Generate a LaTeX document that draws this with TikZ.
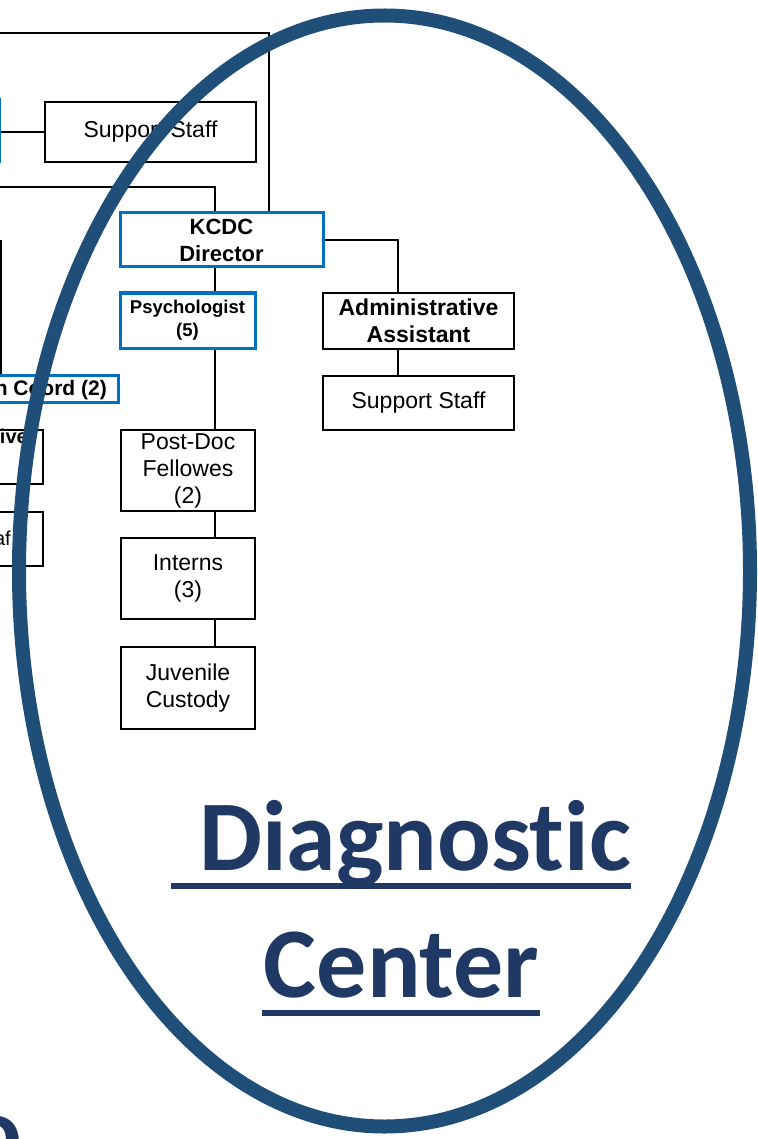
\documentclass[tikz,border=0pt]{standalone}
\usepackage{fontspec}
\setmainfont{Liberation Sans}
\newfontfamily\calibri[Ligatures=NoCommon]{Carlito}
\definecolor{boxblue}{RGB}{0,112,192}
\definecolor{ringblue}{RGB}{31,78,121}
\definecolor{titlenavy}{RGB}{32,56,100}
\tikzset{
  box/.style={draw, line width=2pt, inner sep=0pt, align=center, font=\fontsize{23}{27}\selectfont},
  bluebox/.style={box, draw=boxblue, line width=3pt},
  link/.style={line width=2pt},
  cuttext/.style={anchor=base east, inner sep=0pt},
  title/.style={text=titlenavy, inner sep=0pt, font=\calibri\bfseries\fontsize{100}{110}\selectfont},
}
\begin{document}
\begin{tikzpicture}[x=1pt,y=-1pt]
\useasboundingbox (0,0) rectangle (757,1139);
\clip (0,0) rectangle (757,1139);

% boxes cut off at the left edge
\node[bluebox, anchor=east, minimum width=200pt, minimum height=62pt] (lefthead) at (1,131) {};
\node[bluebox, anchor=east, minimum width=250pt, minimum height=27pt] (coord) at (120,389) {};
\node[cuttext, font=\bfseries\fontsize{21}{25}\selectfont] (coordtext) at (107,395) {n Coord (2)};
\node[box, anchor=east, minimum width=200pt, minimum height=54pt] (leftadmin) at (44,457) {};
\node[cuttext, font=\bfseries\fontsize{20}{24}\selectfont] (leftadmintext) at (28,443) {ive};
\node[box, anchor=east, minimum width=200pt, minimum height=54pt] (leftstaff) at (44,539) {};
\node[cuttext, font=\fontsize{20}{24}\selectfont] (leftstafftext) at (11,545) {af};

% diagnostic center
\node[box, minimum width=211pt, minimum height=60pt] (topstaff) at (150.5,132) {Support Staff};
\node[bluebox, minimum width=203pt, minimum height=54pt, font=\bfseries\fontsize{22}{27}\selectfont] (kcdc) at (221.5,240) {KCDC\\Director};
\node[bluebox, minimum width=135pt, minimum height=55pt, font=\bfseries\fontsize{18.5}{23}\selectfont] (psych) at (187.5,320.5) {Psychologist\\(5)};
\node[box, minimum width=191pt, minimum height=56pt, font=\bfseries\fontsize{23}{27}\selectfont] (admin) at (418.5,321) {Administrative\\Assistant};
\node[box, minimum width=191pt, minimum height=54pt] (adstaff) at (418.5,403) {Support Staff};
\node[box, minimum width=134pt, minimum height=81pt] (postdoc) at (188,470.5) {Post-Doc\\Fellowes\\(2)};
\node[box, minimum width=134pt, minimum height=81pt] (interns) at (188,578.5) {Interns\\(3)};
\node[box, minimum width=134pt, minimum height=82pt] (juvenile) at (188,688) {Juvenile\\Custody};

\coordinate (trunk) at (269,33);
\coordinate (spine) at (215,187);
\coordinate (adminline) at (398,240);
\coordinate (leftdrop) at (1,240);

\draw[link] (-5,33) -- (trunk) -- (trunk |- kcdc.north);
\draw[link] (-5,187) -- (spine) -- (spine |- kcdc.north);
\draw[link] (lefthead.east |- topstaff.west) -- (topstaff.west);
\draw[link] (leftdrop) -- (leftdrop |- coord.north);
\foreach \a/\b in {kcdc/psych, psych/postdoc, postdoc/interns, interns/juvenile}
{
    \draw[link] (\a.south -| spine) -- (\b.north -| spine);
}
\draw[link] (kcdc.east) -| (admin.north -| adminline);
\draw[link] (admin.south -| adminline) -- (adstaff.north -| adminline);

% ring and title
\draw[ringblue, line width=14pt] (384.5,571) ellipse [x radius=365.5pt, y radius=555.5pt];

\node[title, anchor=base] (diag) at (415,870) {Diagnostic};
\node[title, anchor=base] (cent) at (401.5,997) {Center};
\draw[titlenavy, line width=6pt] (171,886) -- (631,886);
\draw[titlenavy, line width=6pt] (262,1013) -- (540,1013);
\node[title, anchor=base] (frag) at (-5,1165) {o};
\end{tikzpicture}
\end{document}
